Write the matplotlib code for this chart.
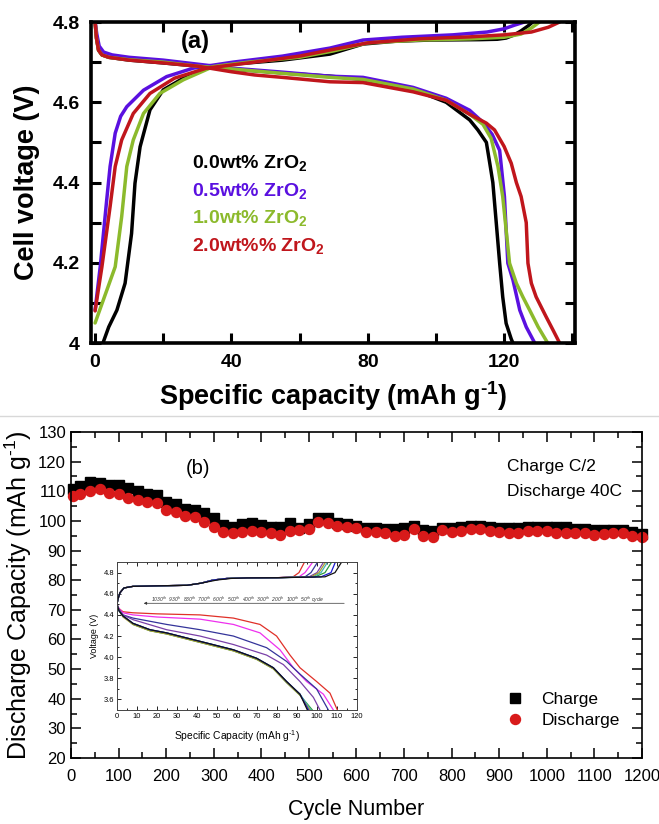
import matplotlib
matplotlib.use("Agg")
import matplotlib.pyplot as plt
from matplotlib.ticker import MultipleLocator, FormatStrFormatter
from matplotlib.lines import Line2D

plt.rcParams['font.family'] = ['Liberation Sans', 'DejaVu Sans']
plt.rcParams['mathtext.default'] = 'regular'

# ---- (a) charge / discharge profiles for the ZrO2 contents ----
labels_a = ['0.0wt% ZrO$_2$', '0.5wt% ZrO$_2$', '1.0wt% ZrO$_2$', '2.0wt%% ZrO$_2$']
colors_a = ['#000000', '#5a10e0', '#8cba2c', '#c0161c']

chg_cap_0 = [2.3, 4.0, 6.4, 8.8, 10.7, 11.7, 13.2, 16.1, 20.0, 25.9, 32.7, 40.5, 55, 68.9, 78.6, 88, 98.2, 112.8, 118, 120.6, 123, 125, 127, 128.4]
chg_v_0 = [4.00, 4.04, 4.082, 4.149, 4.273, 4.398, 4.489, 4.581, 4.631, 4.660, 4.685, 4.695, 4.705, 4.72, 4.745, 4.752, 4.755, 4.756, 4.757, 4.760, 4.768, 4.778, 4.79, 4.80]
chg_cap_05 = [0, 1.5, 3.4, 4.4, 5.9, 7.5, 9.3, 14.2, 21, 28.8, 40.5, 55, 68.9, 78.6, 90, 105, 115, 120, 123, 126]
chg_v_05 = [4.082, 4.19, 4.356, 4.44, 4.523, 4.565, 4.589, 4.63, 4.664, 4.685, 4.70, 4.715, 4.735, 4.755, 4.762, 4.768, 4.775, 4.783, 4.792, 4.80]
chg_cap_1 = [0, 2.4, 5.9, 7.8, 9.3, 11.2, 14.2, 19, 25.9, 34.7, 45, 60, 70, 80, 95, 110, 120, 125, 128, 130.4]
chg_v_1 = [4.05, 4.107, 4.19, 4.315, 4.44, 4.506, 4.572, 4.622, 4.656, 4.689, 4.70, 4.712, 4.728, 4.748, 4.755, 4.758, 4.762, 4.77, 4.785, 4.80]
chg_cap_2 = [0, 2.0, 4.4, 5.9, 7.8, 11.2, 16.1, 23.3, 32.7, 45, 60, 70, 80, 95, 110, 120, 128, 133, 136.3]
chg_v_2 = [4.08, 4.19, 4.34, 4.44, 4.506, 4.572, 4.622, 4.66, 4.685, 4.698, 4.715, 4.732, 4.748, 4.758, 4.763, 4.768, 4.775, 4.787, 4.80]

dis_cap_0 = [0, 0.4, 1.0, 2.0, 4, 10, 20, 30, 40, 56.6, 68.9, 78.6, 93.3, 103, 109.9, 112.3, 114.8, 115.8, 116.7, 117.7, 118.7, 119.6, 120.6, 122.1, 122.6]
dis_v_0 = [4.80, 4.76, 4.73, 4.718, 4.712, 4.705, 4.698, 4.69, 4.683, 4.672, 4.665, 4.657, 4.632, 4.60, 4.556, 4.531, 4.50, 4.448, 4.40, 4.30, 4.199, 4.115, 4.049, 4.01, 4.0]
dis_cap_05 = [0, 0.5, 1.2, 2.5, 5, 10, 20, 30, 40, 55, 68.9, 78.6, 93.3, 103, 109.9, 113.8, 116.5, 118.7, 120.1, 121.1, 122.6, 124.6, 126.5, 129]
dis_v_05 = [4.80, 4.77, 4.74, 4.725, 4.718, 4.712, 4.705, 4.695, 4.685, 4.675, 4.665, 4.662, 4.637, 4.61, 4.58, 4.55, 4.52, 4.48, 4.365, 4.199, 4.157, 4.082, 4.04, 4.0]
dis_cap_1 = [0, 0.4, 1.0, 2.0, 4, 10, 20, 30, 40, 55, 68.9, 78.6, 93.3, 103, 109.9, 113.8, 116.2, 118.2, 119.6, 121.6, 123.6, 125.5, 127.5, 130, 132.8]
dis_v_1 = [4.80, 4.76, 4.73, 4.718, 4.712, 4.706, 4.70, 4.69, 4.683, 4.672, 4.662, 4.657, 4.633, 4.605, 4.57, 4.545, 4.51, 4.44, 4.365, 4.199, 4.149, 4.115, 4.082, 4.04, 4.0]
dis_cap_2 = [0, 0.4, 1.0, 2.0, 4, 10, 20, 30, 40, 46.8, 55, 68.9, 78.6, 93.3, 103, 109.9, 114.8, 117.2, 120, 122.1, 123.6, 125, 126.5, 127, 128, 129.4, 132.3, 134.5, 136.3]
dis_v_2 = [4.80, 4.76, 4.73, 4.718, 4.712, 4.705, 4.698, 4.69, 4.676, 4.668, 4.662, 4.651, 4.649, 4.626, 4.605, 4.57, 4.548, 4.531, 4.49, 4.448, 4.40, 4.365, 4.30, 4.199, 4.149, 4.115, 4.066, 4.03, 4.0]

charge_a = [(chg_cap_0, chg_v_0), (chg_cap_05, chg_v_05), (chg_cap_1, chg_v_1), (chg_cap_2, chg_v_2)]
discharge_a = [(dis_cap_0, dis_v_0), (dis_cap_05, dis_v_05), (dis_cap_1, dis_v_1), (dis_cap_2, dis_v_2)]

# ---- (b) cycling at charge C/2, discharge 40C ----
cycles = [5, 20, 40, 60, 80, 100, 120, 140, 160, 180, 200, 220, 240, 260, 280, 300,
          320, 340, 360, 380, 400, 420, 440, 460, 480, 500, 520, 540, 560, 580, 600,
          620, 640, 660, 680, 700, 720, 740, 760, 780, 800, 820, 840, 860, 880, 900,
          920, 940, 960, 980, 1000, 1020, 1040, 1060, 1080, 1100, 1120, 1140, 1160, 1180, 1200]
charge_b = [110.7, 111.8, 113.3, 112.9, 112.0, 112.0, 111.0, 110.1, 109.2, 108.8, 106.4, 105.8,
            103.9, 103.7, 102.6, 101.1, 98.7, 97.8, 98.9, 99.4, 98.5, 98.1, 98.1, 99.4, 97.5,
            99.1, 101.1, 101.1, 99.4, 99.1, 98.3, 97.5, 97.5, 97.2, 97.2, 97.5, 98.3, 96.9,
            96.6, 97.7, 97.7, 97.9, 98.3, 98.3, 97.9, 97.7, 97.5, 97.7, 97.9, 97.9, 97.9, 97.9,
            97.9, 97.2, 97.2, 96.8, 96.9, 96.9, 96.9, 96.3, 95.5]
discharge_b = [108.4, 109.0, 110.2, 110.8, 109.3, 109.0, 107.9, 107.1, 106.5, 106.0, 103.7, 103.0,
               101.5, 101.2, 99.7, 98.1, 96.4, 95.8, 96.4, 96.6, 96.3, 95.8, 95.3, 96.6, 97.0,
               97.2, 99.8, 99.4, 98.3, 97.9, 97.7, 96.1, 96.4, 95.8, 94.9, 95.4, 97.2, 95.0,
               94.5, 96.9, 96.1, 96.7, 97.3, 97.3, 96.6, 96.4, 95.8, 96.0, 96.6, 96.7, 96.6, 95.8,
               96.0, 96.0, 95.8, 95.2, 95.6, 95.8, 95.8, 95.0, 94.5]

# inset: voltage profiles at selected cycles
inset_colors = ['#e03028', '#ee30ee', '#34349a', '#7a40a8', '#2a9a3a', '#40b4b4', '#a8a030', '#1a1ad0', '#111111']
ins_dis_cap = [
    [0, 1, 3, 8, 20, 41.5, 58.2, 71.5, 79.8, 86.5, 91.5, 99.8, 106.5, 110.2],
    [0, 1, 3, 8, 20, 41.5, 58.2, 71.5, 81.5, 88.2, 94.8, 103.2, 108.2],
    [0, 1, 3, 8, 24.8, 41.5, 58.2, 74.8, 84.8, 91.5, 99.8, 105.7],
    [0, 1, 3, 8, 24.8, 41.5, 58.2, 74.8, 83.2, 91.5, 98.2, 101.5],
    [0, 1, 3, 8, 16.5, 24.8, 41.5, 58.2, 69.8, 78.2, 84.8, 91.5, 97.7],
    [0, 1, 3, 8, 16.5, 24.8, 41.5, 58.2, 69.8, 78.2, 84.8, 91.5, 97.0],
    [0, 1, 3, 8, 16.5, 24.8, 41.5, 58.2, 69.8, 78.2, 84.8, 91.5, 96.5],
    [0, 1, 3, 8, 16.5, 24.8, 41.5, 58.2, 69.8, 78.2, 84.8, 91.5, 95.8],
    [0, 1, 3, 8, 16.5, 24.8, 41.5, 58.2, 69.8, 78.2, 84.8, 91.5, 95.2],
]
ins_dis_v = [
    [4.50, 4.46, 4.43, 4.42, 4.41, 4.40, 4.37, 4.31, 4.20, 4.02, 3.90, 3.77, 3.66, 3.50],
    [4.50, 4.46, 4.42, 4.40, 4.38, 4.36, 4.31, 4.23, 4.07, 3.90, 3.77, 3.65, 3.50],
    [4.50, 4.45, 4.40, 4.37, 4.31, 4.26, 4.20, 4.09, 3.96, 3.84, 3.70, 3.50],
    [4.50, 4.45, 4.40, 4.355, 4.26, 4.20, 4.12, 4.02, 3.93, 3.77, 3.62, 3.50],
    [4.50, 4.44, 4.39, 4.31, 4.25, 4.22, 4.14, 4.06, 3.98, 3.89, 3.76, 3.64, 3.50],
    [4.50, 4.44, 4.39, 4.32, 4.26, 4.23, 4.15, 4.07, 3.99, 3.90, 3.77, 3.65, 3.50],
    [4.50, 4.44, 4.38, 4.31, 4.25, 4.22, 4.14, 4.06, 3.98, 3.89, 3.76, 3.64, 3.50],
    [4.50, 4.44, 4.39, 4.32, 4.26, 4.23, 4.15, 4.07, 3.99, 3.90, 3.77, 3.65, 3.50],
    [4.50, 4.44, 4.39, 4.32, 4.26, 4.23, 4.15, 4.07, 3.99, 3.90, 3.77, 3.65, 3.50],
]
ins_chg_cap = [
    [0, 0.5, 1.5, 3.5, 8, 20, 35, 42, 48, 55, 65, 80, 88, 91, 93.5],
    [0, 0.5, 1.5, 3.5, 8, 20, 35, 42, 48, 55, 65, 80, 91, 94, 97.5],
    [0, 0.5, 1.5, 3.5, 8, 20, 35, 42, 48, 55, 65, 80, 94, 97, 100],
    [0, 0.5, 1.5, 3.5, 8, 20, 35, 42, 48, 55, 65, 80, 96, 100, 103],
    [0, 0.5, 1.5, 3.5, 8, 20, 35, 42, 48, 55, 65, 80, 99, 104, 107],
    [0, 0.5, 1.5, 3.5, 8, 20, 35, 42, 48, 55, 65, 80, 98, 102, 105],
    [0, 0.5, 1.5, 3.5, 8, 20, 35, 42, 48, 55, 65, 80, 97, 101, 104],
    [0, 0.5, 1.5, 3.5, 8, 20, 35, 42, 48, 55, 65, 80, 102, 107, 109],
    [0, 0.5, 1.5, 3.5, 8, 20, 35, 42, 50, 57, 65, 80, 104, 109, 112],
]
ins_chg_v = [[4.50, 4.55, 4.61, 4.655, 4.67, 4.675, 4.68, 4.70, 4.73, 4.745, 4.75, 4.752, 4.76, 4.80, 4.89]] * 9

unit_a = 'Specific capacity (mAh g$^{\u20101}$)'
unit_b = 'Discharge Capacity (mAh g$^{\u20101}$)'
unit_in = 'Specific Capacity (mAh g$^{\u20101}$)'

fig = plt.figure(figsize=(6.59, 8.24), dpi=100)

# ---------- panel (a) ----------
ax1 = fig.add_axes([0.1381, 0.5837, 0.7344, 0.3896])
for (cx, cy), (dx, dy), c in zip(charge_a, discharge_a, colors_a):
    ax1.plot(cx, cy, color=c, lw=2.5, solid_capstyle='round', solid_joinstyle='round')
    ax1.plot(dx, dy, color=c, lw=2.5, solid_capstyle='round', solid_joinstyle='round')
ax1.set_xlim(-1.2, 140.8)
ax1.set_ylim(4.0, 4.8)
ax1.xaxis.set_major_locator(MultipleLocator(40))
ax1.xaxis.set_minor_locator(MultipleLocator(20))
ax1.yaxis.set_major_locator(MultipleLocator(0.2))
ax1.yaxis.set_minor_locator(MultipleLocator(0.1))
ax1.yaxis.set_major_formatter(FormatStrFormatter('%g'))
ax1.tick_params(which='both', direction='in', top=True, right=True, length=7.5, width=2.2)
ax1.tick_params(axis='y', labelsize=14, pad=8)
ax1.tick_params(axis='x', labelsize=14, pad=8)
for lab in ax1.get_xticklabels() + ax1.get_yticklabels():
    lab.set_fontweight('bold')
for s in ax1.spines.values():
    s.set_linewidth(2.6)
ax1.set_xlabel(unit_a, fontsize=19.5, fontweight='bold', labelpad=6)
ax1.set_ylabel('Cell voltage (V)', fontsize=19.5, fontweight='bold', labelpad=9)
ax1.text(0.215, 0.94, '(a)', transform=ax1.transAxes, fontsize=17, fontweight='bold', ha='center', va='center')
for i, (lab, c) in enumerate(zip(labels_a, colors_a)):
    ax1.text(0.208, 0.56 - i * 0.086, lab, transform=ax1.transAxes, color=c,
             fontsize=14, fontweight='bold', va='center')

# separator between the two panels
fig.add_artist(Line2D([0, 1], [0.4955, 0.4955], color='#d8d8d8', lw=1))

# ---------- panel (b) ----------
ax2 = fig.add_axes([0.1077, 0.0801, 0.8665, 0.3956])
ax2.plot(cycles, charge_b, 's', color='black', ms=6.6, label='Charge', clip_on=False)
ax2.plot(cycles, discharge_b, 'o', color='#d81a1a', ms=7.2, label='Discharge', clip_on=False)
ax2.set_xlim(0, 1200)
ax2.set_ylim(20, 130)
ax2.xaxis.set_major_locator(MultipleLocator(100))
ax2.xaxis.set_minor_locator(MultipleLocator(50))
ax2.yaxis.set_major_locator(MultipleLocator(10))
ax2.yaxis.set_minor_locator(MultipleLocator(5))
ax2.tick_params(which='both', direction='in', top=True, right=True, width=1.1)
ax2.tick_params(which='major', length=7, labelsize=12)
ax2.tick_params(axis='x', pad=8)
ax2.tick_params(which='minor', length=4)
for s in ax2.spines.values():
    s.set_linewidth(1.2)
ax2.set_xlabel('Cycle Number', fontsize=15.5, labelpad=11)
ax2.set_ylabel(unit_b, fontsize=18, labelpad=3)
ax2.text(0.222, 0.887, '(b)', transform=ax2.transAxes, fontsize=14.5, ha='center', va='center')
ax2.text(0.763, 0.895, 'Charge C/2', transform=ax2.transAxes, fontsize=12.5, va='center')
ax2.text(0.763, 0.818, 'Discharge 40C', transform=ax2.transAxes, fontsize=12.5, va='center')
ax2.legend(loc='center left', bbox_to_anchor=(0.745, 0.148), frameon=False, fontsize=12.5,
           handletextpad=0.9, labelspacing=0.35, handlelength=1.2, borderpad=0)

# ---------- inset ----------
ax3 = fig.add_axes([0.1775, 0.1383, 0.3642, 0.1796])
for cx, cv, c in zip(ins_chg_cap, ins_chg_v, inset_colors):
    ax3.plot(cx, cv, color=c, lw=0.9)
for dx, dv, c in zip(ins_dis_cap, ins_dis_v, inset_colors):
    ax3.plot(dx, dv, color=c, lw=0.9)
ax3.set_xlim(0, 120)
ax3.set_ylim(3.5, 4.9)
ax3.xaxis.set_major_locator(MultipleLocator(10))
ax3.xaxis.set_minor_locator(MultipleLocator(5))
ax3.yaxis.set_major_locator(MultipleLocator(0.2))
ax3.yaxis.set_minor_locator(MultipleLocator(0.1))
ax3.yaxis.set_major_formatter(FormatStrFormatter('%.1f'))
ax3.tick_params(which='both', direction='in', top=True, right=True, width=0.6, labelsize=5.4, pad=2)
ax3.tick_params(which='major', length=2.6)
ax3.tick_params(which='minor', length=1.4)
for s in ax3.spines.values():
    s.set_linewidth(0.7)
    s.set_color('#444444')
ax3.set_xlabel(unit_in, fontsize=7.4, labelpad=6)
ax3.set_ylabel('Voltage (V)', fontsize=6.4, labelpad=3)
ax3.annotate('', xy=(12, 4.51), xytext=(115, 4.51),
             arrowprops=dict(arrowstyle='-|>', color='#333333', lw=0.5, mutation_scale=4))
ax3.text(17, 4.545, r'$1030^{th}\ \ 930^{th}\ \ 830^{th}\ \ 700^{th}\ \ 600^{th}\ \ 500^{th}\ \ 400^{th}\ \ 300^{th}\ \ 200^{th}\ \ 100^{th}\ \ 50^{th}\ cycle$',
         fontsize=3.6, style='italic', va='center', color='#333333')

fig.savefig('out.png', dpi=100)
